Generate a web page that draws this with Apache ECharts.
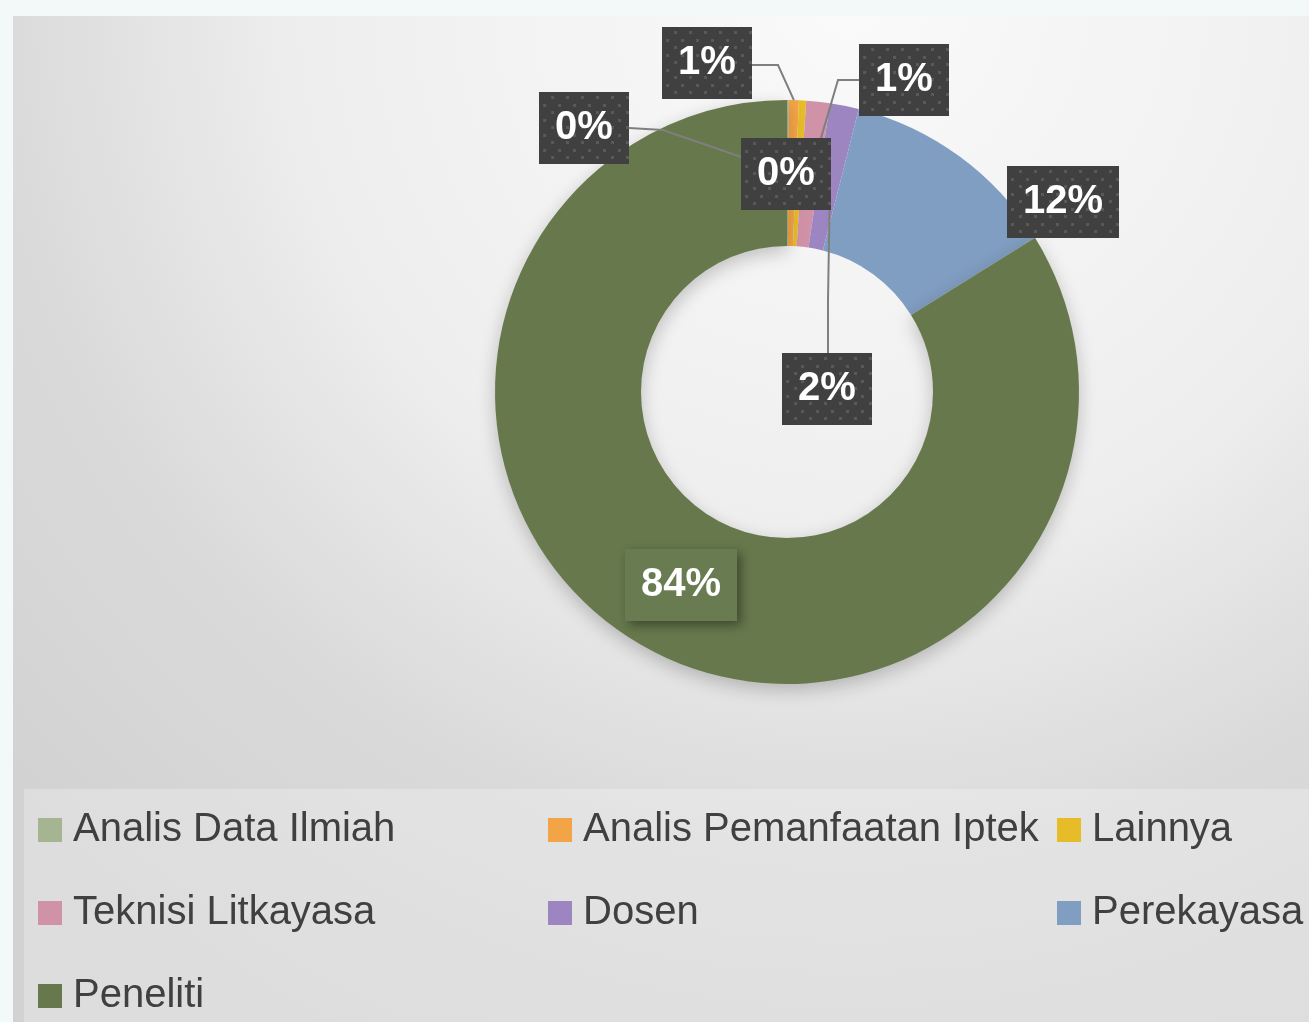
<!DOCTYPE html>
<html><head><meta charset="utf-8">
<script src="https://cdn.jsdelivr.net/npm/echarts@6/dist/echarts.min.js"></script>
<style>
html,body{margin:0;padding:0;width:1309px;height:1022px;background:#f3f8f9;overflow:hidden}
#bg{position:absolute;left:13px;top:16px;width:1296px;height:1006px;background:radial-gradient(circle at 837px -16px,#fafafa 0px,#eeeeee 550px,#dadada 850px,#d2d2d2 1150px)}
#lg{position:absolute;left:24px;top:789px;width:1285px;height:233px;background:rgba(255,255,255,0.25)}
#chart{position:absolute;left:0;top:0;width:1309px;height:1022px}
</style></head><body>
<div id="bg"></div><div id="lg"></div><div id="chart"></div>
<script>
// ---- data ----
const categories = ['Analis Data Ilmiah', 'Analis Pemanfaatan Iptek', 'Lainnya', 'Teknisi Litkayasa', 'Dosen', 'Perekayasa', 'Peneliti'];
const values = [0.1, 0.55, 0.4, 1.3, 1.6, 12.2, 83.85];
const colors = ['#a5b592', '#f3a447', '#e7bc29', '#d092a7', '#9c85c0', '#809ec2', '#66784c'];

// ---- layout constants ----
const CX = 787, CY = 392, R_IN = 146, R_OUT = 292;
const labelCenters = [[584,128],[707,63],[786,174],[904,80],[827,389],[1063,202],[681,585]];
const guides = {
  0: {start:[629,128], elbow:[663,130], r:'mid'},
  1: {start:[752,65], elbow:[778,65], r:'outer'},
  3: {start:[859,80], elbow:[838,80], r:'mid'},
  4: {start:[828,353], elbow:[828,300], r:'mid'}
};
const FONT = 'bold 40px "Liberation Sans"';

const total = values.reduce((a,b)=>a+b,0);
function midAngle(i){
  let cum = 0; for (let k=0;k<i;k++) cum += values[k];
  return 2*Math.PI*(cum + values[i]/2)/total;
}
function pctText(i){ return Math.round(values[i]/total*100) + '%'; }

const mctx = document.createElement('canvas').getContext('2d');
mctx.font = FONT;
function dots(w,h){
  const c=document.createElement('canvas'); c.width=w; c.height=h;
  const x=c.getContext('2d'); x.fillStyle='#404040'; x.fillRect(0,0,w,h); x.fillStyle='#595959';
  let r=0;
  for(let y=4; y<h-2; y+=7.5, r++){
    for(let xx=(r%2?4:11.5); xx<w-2; xx+=15) x.fillRect(Math.round(xx),Math.round(y),3,3);
  }
  return c;
}

// visible ring
const ringData = categories.map((name,i)=>{
  const item = {name, value: values[i], itemStyle:{color: colors[i]}};
  if (i === 6) {
    item.itemStyle.shadowBlur = 18; item.itemStyle.shadowOffsetY = 6; item.itemStyle.shadowColor = 'rgba(0,0,0,0.22)';
  }
  return item;
});
// label-carrying overlay (same values, transparent sectors) so leader lines sit above the ring
const labelData = categories.map((name,i)=>{
  const item = {name, value: values[i]};
  const w = Math.round(mctx.measureText(pctText(i)).width) + 32;
  if (i === 6) item.label = {backgroundColor:'#697b51'};
  else item.label = {backgroundColor:{image: dots(w,72)}};
  if (!guides[i]) item.labelLine = {show:false};
  return item;
});

const legendCommon = {
  orient:'vertical', top: 810, padding:0, itemGap: 43, itemWidth: 24, itemHeight: 24, icon:'rect',
  selectedMode:false,
  itemStyle:{shadowBlur:0, shadowColor:'rgba(0,0,0,0)'},
  textStyle:{fontFamily:'"Liberation Sans"', fontSize:40, color:'#404040', lineHeight:40, padding:[0,0,0,6]}
};

const chart = echarts.init(document.getElementById('chart'), null, {renderer:'canvas'});
chart.setOption({
  backgroundColor:'transparent',
  animation:false,
  legend:[
    Object.assign({left:38, data:[categories[0], categories[3], categories[6]]}, legendCommon),
    Object.assign({left:548, data:[categories[1], categories[4]]}, legendCommon),
    Object.assign({left:1057, data:[categories[2], categories[5]]}, legendCommon)
  ],
  series:[{
    type:'pie', z:2,
    center:[CX, CY], radius:[R_IN, R_OUT], startAngle:90, clockwise:true,
    itemStyle:{borderWidth:0},
    label:{show:false}, labelLine:{show:false},
    emphasis:{disabled:true},
    data: ringData
  },{
    type:'pie', z:5, silent:true,
    center:[CX, CY], radius:[R_IN, R_OUT], startAngle:90, clockwise:true,
    avoidLabelOverlap:false,
    itemStyle:{color:'rgba(0,0,0,0)', borderWidth:0},
    label:{
      show:true, position:'outside',
      formatter: p => pctText(p.dataIndex),
      fontFamily:'"Liberation Sans"', fontWeight:'bold', fontSize:40, lineHeight:40,
      color:'#ffffff', padding:[16,16],
      shadowColor:'rgba(0,0,0,0.4)', shadowBlur:10, shadowOffsetX:4, shadowOffsetY:4
    },
    labelLine:{show:true, lineStyle:{color:'#7f7f7f', width:2}},
    labelLayout: function(p){
      const i = p.dataIndex;
      const c = labelCenters[i];
      const out = {x:c[0], y:c[1], align:'center', verticalAlign:'middle'};
      const g = guides[i];
      if (g) {
        const th = midAngle(i);
        const r = g.r === 'outer' ? R_OUT : (R_IN + R_OUT)/2;
        const a = [CX + r*Math.sin(th), CY - r*Math.cos(th)];
        out.labelLinePoints = [a, g.elbow, g.start];
      }
      return out;
    },
    emphasis:{disabled:true},
    data: labelData
  }]
});
</script>
</body></html>
